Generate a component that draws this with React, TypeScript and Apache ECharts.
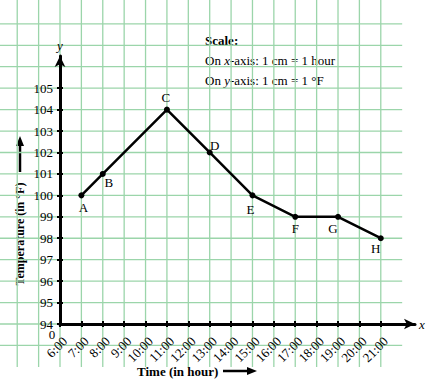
import React, { useEffect, useRef } from "react";
import * as echarts from "echarts";

const pointNames = ["A", "B", "C", "D", "E", "F", "G", "H"];
const hours = [7, 8, 11, 13, 15, 17, 19, 21];
const temperatures = [100, 101, 104, 102, 100, 99, 99, 98];
const xTickHours = [6, 7, 8, 9, 10, 11, 12, 13, 14, 15, 16, 17, 18, 19, 20, 21];
const yTickValues = [94, 95, 96, 97, 98, 99, 100, 101, 102, 103, 104, 105];
const gridHours = [4, 5, 6, 7, 8, 9, 10, 11, 12, 13, 14, 15, 16, 17, 18, 19, 20, 21];
const gridTemps = [93, 94, 95, 96, 97, 98, 99, 100, 101, 102, 103, 104, 105, 106, 107, 108];

const FONT = "'Liberation Serif', 'DejaVu Serif', serif";
const GRID_GREEN = "#9bd5aa";

const labelOffsets: Record<string, [number, number]> = {
  A: [2, 12],
  B: [6, 9],
  C: [-1, -12],
  D: [5, -7],
  E: [-2, 14],
  F: [0, 12],
  G: [-5, 12],
  H: [-5, 10],
};

export default function App() {
  const ref = useRef<HTMLDivElement>(null);

  useEffect(() => {
    document.body.style.margin = "0";
    if (!ref.current) return;
    const chart = echarts.init(ref.current, undefined, { renderer: "svg" });

    const lineData = hours.map((h, i) => ({
      name: pointNames[i],
      value: [h, temperatures[i]],
      label: { offset: labelOffsets[pointNames[i]] },
    }));

    const option: any = {
      animation: false,
      backgroundColor: "#ffffff",
      grid: { left: 60, right: 15, top: 56, bottom: 65, containLabel: false },
      xAxis: [
        {
          type: "value",
          min: 6,
          max: 22.6,
          interval: 1,
          position: "bottom",
          name: "x",
          nameLocation: "end",
          nameGap: 4,
          nameTextStyle: { fontFamily: FONT, fontStyle: "italic", fontSize: 13, color: "#000" },
          axisLine: {
            show: true,
            onZero: false,
            symbol: ["none", "arrow"],
            symbolSize: [8, 11],
            lineStyle: { color: "#000", width: 3 },
          },
          axisTick: {
            show: true,
            customValues: xTickHours,
            length: 3,
            lineStyle: { color: "#000", width: 2 },
          },
          axisLabel: { show: false },
          splitLine: { show: false },
        },
        {
          type: "value",
          min: 6,
          max: 22.6,
          interval: 1,
          position: "bottom",
          axisLine: { show: false, onZero: false },
          axisTick: {
            show: true,
            inside: true,
            customValues: xTickHours,
            length: 3,
            lineStyle: { color: "#000", width: 2 },
          },
          axisLabel: { show: false },
          splitLine: { show: false },
        },
      ],
      yAxis: [
        {
          type: "value",
          min: 94,
          max: 106.5,
          interval: 1,
          position: "left",
          name: "y",
          nameLocation: "end",
          nameGap: 4,
          nameTextStyle: { fontFamily: FONT, fontStyle: "italic", fontSize: 13, color: "#000" },
          axisLine: {
            show: true,
            onZero: false,
            symbol: ["none", "arrow"],
            symbolSize: [8, 11],
            lineStyle: { color: "#000", width: 3 },
          },
          axisTick: {
            show: true,
            customValues: yTickValues,
            length: 3,
            lineStyle: { color: "#000", width: 2 },
          },
          axisLabel: {
            show: true,
            customValues: yTickValues,
            margin: 7,
            fontFamily: FONT,
            fontSize: 13,
            color: "#000",
          },
          splitLine: { show: false },
        },
        {
          type: "value",
          min: 94,
          max: 106.5,
          interval: 1,
          position: "left",
          axisLine: { show: false, onZero: false },
          axisTick: {
            show: true,
            inside: true,
            customValues: yTickValues,
            length: 3,
            lineStyle: { color: "#000", width: 2 },
          },
          axisLabel: { show: false },
          splitLine: { show: false },
        },
      ],
      series: [
        {
          type: "custom",
          coordinateSystem: "cartesian2d",
          xAxisIndex: 0,
          yAxisIndex: 0,
          clip: false,
          silent: true,
          z: 0,
          data: [[6, 94]],
          renderItem: (_params: any, api: any) => {
            const children: any[] = [];
            const bottom = api.coord([6, 92])[1];
            gridHours.forEach((h) => {
              const x = api.coord([h, 94])[0];
              children.push({
                type: "line",
                shape: { x1: x, y1: 0, x2: x, y2: bottom },
                style: { stroke: GRID_GREEN, lineWidth: 1.3 },
              });
            });
            const right = api.coord([22, 94])[0];
            gridTemps.forEach((t) => {
              const y = api.coord([6, t])[1];
              children.push({
                type: "line",
                shape: { x1: 0, y1: y, x2: right, y2: y },
                style: { stroke: GRID_GREEN, lineWidth: 1.3 },
              });
            });
            return { type: "group", children };
          },
        },
        {
          type: "custom",
          coordinateSystem: "cartesian2d",
          xAxisIndex: 0,
          yAxisIndex: 0,
          clip: false,
          silent: true,
          z: 6,
          data: xTickHours.map((h) => [h, 94]),
          renderItem: (_params: any, api: any) => {
            const h = api.value(0);
            const p = api.coord([h, api.value(1)]);
            return {
              type: "text",
              x: p[0] + 5,
              y: p[1] + 15,
              rotation: Math.PI / 4,
              style: {
                text: `${h}:00`,
                font: `13px ${FONT}`,
                fill: "#000",
                align: "right",
                verticalAlign: "middle",
              },
            };
          },
        },
        {
          type: "line",
          xAxisIndex: 0,
          yAxisIndex: 0,
          z: 5,
          data: lineData,
          symbol: "circle",
          symbolSize: 6,
          itemStyle: { color: "#000" },
          lineStyle: { color: "#000", width: 2.5 },
          label: {
            show: true,
            position: "inside",
            formatter: (p: any) => p.name,
            fontFamily: FONT,
            fontSize: 13,
            color: "#000",
          },
        },
      ],
      graphic: [
        {
          type: "text",
          left: 205,
          top: 34,
          style: { text: "Scale:", font: `bold 13px ${FONT}`, fill: "#000" },
        },
        {
          type: "text",
          left: 205,
          top: 54,
          style: {
            text: "On {i|x}-axis: 1 cm = 1 hour",
            font: `13px ${FONT}`,
            fill: "#000",
            rich: { i: { fontStyle: "italic", fontFamily: FONT, fontSize: 13, fill: "#000" } },
          },
        },
        {
          type: "text",
          left: 205,
          top: 74,
          style: {
            text: "On {i|y}-axis: 1 cm = 1 °F",
            font: `13px ${FONT}`,
            fill: "#000",
            rich: { i: { fontStyle: "italic", fontFamily: FONT, fontSize: 13, fill: "#000" } },
          },
        },
        {
          type: "text",
          x: 52,
          y: 334,
          style: {
            text: "0",
            font: `13px ${FONT}`,
            fill: "#000",
            align: "center",
            verticalAlign: "middle",
          },
        },
        {
          type: "text",
          x: 20,
          y: 234,
          rotation: Math.PI / 2,
          style: {
            text: "Temperature (in °F)",
            font: `bold 12px ${FONT}`,
            fill: "#000",
            align: "center",
            verticalAlign: "middle",
          },
        },
        {
          type: "line",
          shape: { x1: 20, y1: 172, x2: 20, y2: 143 },
          style: { stroke: "#000", lineWidth: 2.5 },
        },
        {
          type: "polygon",
          shape: { points: [[16, 146], [24, 146], [20, 136]] },
          style: { fill: "#000" },
        },
        {
          type: "text",
          x: 137,
          y: 371,
          style: {
            text: "Time (in hour)",
            font: `bold 13px ${FONT}`,
            fill: "#000",
            align: "left",
            verticalAlign: "middle",
          },
        },
        {
          type: "line",
          shape: { x1: 223, y1: 371, x2: 250, y2: 371 },
          style: { stroke: "#000", lineWidth: 2.5 },
        },
        {
          type: "polygon",
          shape: { points: [[247, 367], [247, 375], [257, 371]] },
          style: { fill: "#000" },
        },
      ],
    };

    chart.setOption(option);
    return () => chart.dispose();
  }, []);

  return <div ref={ref} style={{ width: 430, height: 389 }} />;
}
